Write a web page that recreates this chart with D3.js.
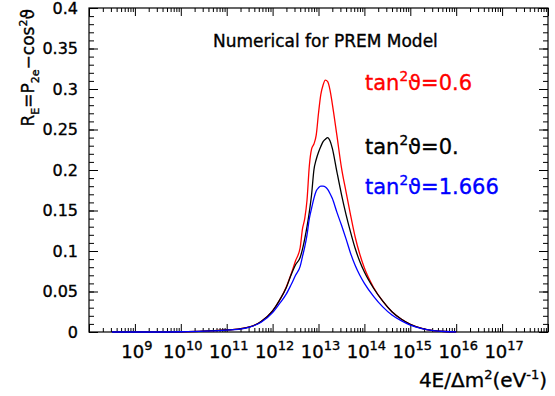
<!DOCTYPE html>
<html>
<head>
<meta charset="utf-8">
<script src="https://cdn.jsdelivr.net/npm/d3@7"></script>
<style>
  body { margin: 0; background: #fff; }
  text { font-family: "DejaVu Sans", sans-serif; fill: #000; stroke: #000; stroke-width: 0.35px; }
</style>
</head>
<body>
<script>
//---------------- data (log10 of 4E/dm2, R_E) ----------------

const logE = [8.5, 9, 9.5, 10, 10.5, 11, 11.25, 11.5, 11.75, 12, 12.15, 12.3, 12.4, 12.5, 12.6, 12.65, 12.7, 12.75, 12.8, 12.85, 12.9, 12.95, 13.0, 13.05, 13.1, 13.15, 13.2, 13.25, 13.3, 13.4, 13.5, 13.6, 13.7, 13.8, 13.9, 14.0, 14.2, 14.4, 14.6, 14.8, 15.0, 15.25, 15.5, 15.75, 16.0];

const tan06 = [0, 0, 0, 0.0003, 0.001, 0.0025, 0.0035, 0.0062, 0.013, 0.026, 0.039, 0.056, 0.071, 0.088, 0.104, 0.127, 0.140, 0.163, 0.205, 0.226, 0.232, 0.243, 0.270, 0.293, 0.305, 0.311, 0.309, 0.299, 0.282, 0.243, 0.203, 0.173, 0.144, 0.117, 0.096, 0.079, 0.055, 0.038, 0.025, 0.016, 0.0095, 0.0045, 0.0018, 0.0006, 0.0002];

const tan0 = [0, 0, 0, 0.0003, 0.001, 0.0025, 0.0035, 0.0062, 0.013, 0.026, 0.039, 0.055, 0.070, 0.083, 0.092, 0.102, 0.115, 0.130, 0.148, 0.170, 0.200, 0.213, 0.222, 0.229, 0.235, 0.238, 0.240, 0.236, 0.227, 0.198, 0.170, 0.145, 0.123, 0.103, 0.087, 0.074, 0.054, 0.038, 0.025, 0.016, 0.0095, 0.0045, 0.0018, 0.0006, 0.0002];

const tan1666 = [0, 0, 0, 0.0003, 0.001, 0.0024, 0.0033, 0.006, 0.012, 0.024, 0.035, 0.047, 0.058, 0.070, 0.081, 0.093, 0.105, 0.120, 0.140, 0.153, 0.165, 0.174, 0.178, 0.180, 0.180, 0.179, 0.176, 0.171, 0.165, 0.148, 0.132, 0.115, 0.097, 0.082, 0.070, 0.060, 0.044, 0.031, 0.021, 0.014, 0.0085, 0.0042, 0.0018, 0.0006, 0.0002];

const xTickExp = [9, 10, 11, 12, 13, 14, 15, 16, 17];
const yTickVals = [0, 0.05, 0.1, 0.15, 0.2, 0.25, 0.3, 0.35, 0.4];
const yTickLabels = ["0", "0.05", "0.1", "0.15", "0.2", "0.25", "0.3", "0.35", "0.4"];

//---------------- svg & scales ----------------

const width = 555;
const height = 396;
const pLeft = 89, pRight = 548, pTop = 8, pBottom = 332;

const svg = d3.select("body").append("svg").attr("width", width).attr("height", height);

const x = d3.scaleLog().domain([1e8, 1e18]).range([pLeft, pRight]);
const y = d3.scaleLinear().domain([0, 0.4]).range([pBottom, pTop]);

// helper for text with sub / superscripts
function richText(sel, parts, size, small = 0.65) {
  const t = sel.append("text").style("font-size", size + "px");
  let shift = 0;
  parts.forEach((p) => {
    const s = p.sup ? -0.42 * size : p.sub ? 0.28 * size : 0;
    t.append("tspan")
      .text(p.t)
      .attr("dy", s - shift)
      .style("font-size", p.sup || p.sub ? small * size + "px" : null);
    shift = s;
  });
  return t;
}

//---------------- axes (ticks inside the frame) ----------------

const majorX = xTickExp.map((e) => Math.pow(10, e)).concat([1e8, 1e18]);
const minorX = [];
for (let e = 8; e < 18; e++) for (let m = 2; m <= 9; m++) minorX.push(m * Math.pow(10, e));

const minorY = d3.range(0, 0.4001, 0.01);

function drawAxis(axisFn, scale, vals, size, transform) {
  const g = svg.append("g")
    .attr("transform", transform)
    .call(axisFn(scale).tickValues(vals).tickSizeInner(size).tickSizeOuter(0).tickFormat(""));
  g.select(".domain").remove();
  g.selectAll(".tick line").attr("stroke", "#000").attr("stroke-width", 1);
  return g;
}

drawAxis(d3.axisBottom, x, minorX, -4, `translate(0,${pBottom})`);
drawAxis(d3.axisBottom, x, majorX, -8, `translate(0,${pBottom})`);
drawAxis(d3.axisTop, x, minorX, -4, `translate(0,${pTop})`);
drawAxis(d3.axisTop, x, majorX, -8, `translate(0,${pTop})`);
drawAxis(d3.axisLeft, y, minorY, -5, `translate(${pLeft},0)`);
drawAxis(d3.axisLeft, y, yTickVals, -9, `translate(${pLeft},0)`);
drawAxis(d3.axisRight, y, minorY, -5, `translate(${pRight},0)`);
drawAxis(d3.axisRight, y, yTickVals, -9, `translate(${pRight},0)`);

svg.append("rect")
  .attr("x", pLeft).attr("y", pTop)
  .attr("width", pRight - pLeft).attr("height", pBottom - pTop)
  .attr("fill", "none").attr("stroke", "#000").attr("stroke-width", 1.2);

// tick labels
yTickVals.forEach((v, i) => {
  svg.append("text")
    .attr("x", pLeft - 11)
    .attr("y", y(v))
    .attr("dy", "0.36em")
    .style("font-size", "16px")
    .style("text-anchor", "end")
    .text(yTickLabels[i]);
});

xTickExp.forEach((e) => {
  richText(svg, [{ t: "10" }, { t: String(e), sup: true }], 18, 0.72)
    .attr("x", x(Math.pow(10, e)) + 2)
    .attr("y", 358)
    .style("text-anchor", "middle");
});

// axis titles
richText(svg, [{ t: "4E/Δm" }, { t: "2", sup: true }, { t: "(eV" }, { t: "-1", sup: true }, { t: ")" }], 20)
  .attr("x", 547)
  .attr("y", 387)
  .style("text-anchor", "end");

richText(svg, [{ t: "R" }, { t: "E", sub: true }, { t: "=P" }, { t: "2e", sub: true }, { t: "−cos" }, { t: "2", sup: true }, { t: "ϑ" }], 17)
  .attr("transform", "translate(34,9) rotate(-90)")
  .style("text-anchor", "end");

//---------------- curves ----------------

const line = d3.line()
  .x((d) => x(Math.pow(10, d[0])))
  .y((d) => y(d[1]))
  .curve(d3.curveMonotoneX);

const series = [
  { vals: tan06, color: "#ff0000" },
  { vals: tan0, color: "#000000" },
  { vals: tan1666, color: "#0000ff" }
];

series.forEach((s) => {
  svg.append("path")
    .datum(logE.map((l, i) => [l, s.vals[i]]))
    .attr("d", line)
    .attr("fill", "none")
    .attr("stroke", s.color)
    .attr("stroke-width", 1.3);
});

//---------------- title & legend ----------------

svg.append("text")
  .attr("x", 213)
  .attr("y", 47)
  .style("font-size", "17px")
  .text("Numerical for PREM Model");

const legend = [
  { val: "0.6", color: "#ff0000", yPos: 90 },
  { val: "0.", color: "#000000", yPos: 154 },
  { val: "1.666", color: "#0000ff", yPos: 194 }
];

legend.forEach((l) => {
  richText(svg, [{ t: "tan" }, { t: "2", sup: true }, { t: "ϑ=" + l.val }], 21)
    .attr("x", 365)
    .attr("y", l.yPos)
    .style("fill", l.color)
    .style("stroke", l.color);
});
</script>
</body>
</html>
